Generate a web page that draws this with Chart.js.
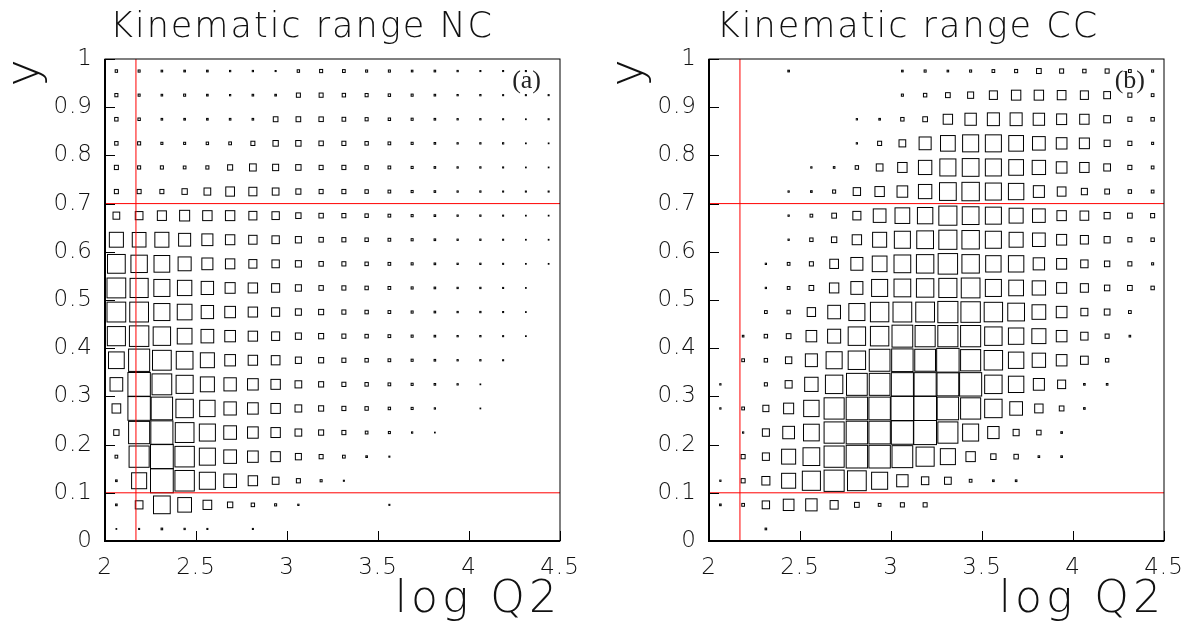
<!DOCTYPE html>
<html>
<head>
<meta charset="utf-8">
<script src="https://cdn.jsdelivr.net/npm/chart.js@4.4.1/dist/chart.umd.min.js"></script>
<style>
  html, body { margin: 0; padding: 0; background: #fff; overflow: hidden; }
  #wrap { position: relative; width: 1199px; height: 628px; }
  canvas { position: absolute; top: 0; }
</style>
</head>
<body>
<div id="wrap">
  <canvas id="chart_nc" width="600" height="628" style="left:0"></canvas>
  <canvas id="chart_cc" width="599" height="628" style="left:600px"></canvas>
</div>
<script>
// bin centres of the 20x20 histograms
const logQ2Bins = [2.0625, 2.1875, 2.3125, 2.4375, 2.5625, 2.6875, 2.8125, 2.9375, 3.0625, 3.1875,
                   3.3125, 3.4375, 3.5625, 3.6875, 3.8125, 3.9375, 4.0625, 4.1875, 4.3125, 4.4375];
// rows listed from the top of the plot (y = 0.975) down to y = 0.025
const yBins = [0.975, 0.925, 0.875, 0.825, 0.775, 0.725, 0.675, 0.625, 0.575, 0.525,
               0.475, 0.425, 0.375, 0.325, 0.275, 0.225, 0.175, 0.125, 0.075, 0.025];

// neutral current, bin contents (arbitrary units)
const ncCounts = [
  [11, 8, 5, 5, 5, 3, 3, 2, 11, 18, 14, 8, 8, 5, 5, 3, 2, 2, 2, 0],
  [18, 8, 5, 8, 5, 3, 5, 5, 31, 31, 22, 18, 11, 8, 5, 3, 3, 2, 2, 2],
  [22, 11, 5, 5, 5, 5, 5, 42, 42, 37, 26, 18, 11, 8, 5, 3, 3, 2, 1, 2],
  [22, 18, 8, 8, 11, 14, 31, 55, 55, 37, 31, 22, 14, 8, 5, 3, 3, 3, 1, 1],
  [31, 18, 18, 14, 18, 49, 87, 70, 55, 31, 31, 22, 14, 8, 5, 3, 3, 2, 1, 1],
  [31, 31, 31, 55, 87, 146, 125, 87, 49, 31, 31, 22, 14, 8, 5, 3, 3, 2, 2, 2],
  [87, 114, 158, 195, 170, 170, 125, 105, 55, 37, 31, 22, 14, 8, 5, 3, 3, 2, 1, 1],
  [381, 364, 381, 280, 236, 170, 135, 105, 70, 37, 31, 22, 14, 8, 5, 3, 3, 2, 1, 1],
  [607, 519, 478, 329, 236, 170, 125, 105, 70, 37, 31, 22, 14, 8, 5, 3, 3, 2, 1, 1],
  [678, 631, 498, 400, 296, 195, 170, 125, 70, 37, 31, 22, 14, 8, 5, 3, 3, 2, 1, 0],
  [678, 678, 498, 419, 296, 221, 170, 125, 70, 49, 31, 22, 14, 8, 5, 3, 3, 2, 1, 0],
  [631, 727, 585, 419, 312, 221, 170, 125, 70, 49, 31, 22, 14, 8, 5, 3, 3, 2, 1, 0],
  [478, 858, 678, 541, 381, 221, 170, 146, 70, 49, 31, 22, 14, 8, 5, 3, 3, 2, 0, 0],
  [312, 971, 753, 563, 381, 296, 221, 170, 87, 49, 31, 22, 14, 8, 5, 3, 1, 0, 0, 0],
  [146, 971, 886, 585, 458, 296, 221, 170, 87, 49, 31, 22, 11, 8, 3, 0, 1, 0, 0, 0],
  [55, 858, 942, 678, 498, 312, 221, 170, 87, 49, 31, 14, 8, 3, 1, 0, 0, 0, 0, 0],
  [14, 779, 1000, 727, 498, 312, 221, 170, 70, 31, 14, 5, 2, 0, 0, 0, 0, 0, 0, 0],
  [5, 438, 1000, 727, 498, 312, 170, 87, 31, 8, 2, 0, 0, 0, 0, 0, 0, 0, 0, 0],
  [5, 114, 541, 364, 146, 55, 22, 8, 3, 0, 0, 0, 2, 0, 0, 0, 0, 0, 0, 0],
  [1, 2, 5, 3, 2, 0, 2, 0, 0, 0, 0, 0, 0, 0, 0, 0, 0, 0, 0, 0]
];

// charged current, bin contents (arbitrary units)
const ccCounts = [
  [0, 0, 0, 5, 0, 0, 0, 0, 5, 8, 5, 8, 14, 18, 42, 31, 22, 31, 14, 8],
  [0, 0, 0, 0, 0, 0, 0, 0, 8, 22, 42, 70, 125, 170, 170, 146, 125, 87, 31, 14],
  [0, 0, 0, 0, 0, 0, 3, 5, 22, 42, 170, 250, 280, 280, 250, 195, 170, 87, 31, 22],
  [0, 0, 0, 0, 0, 0, 3, 31, 87, 280, 419, 498, 498, 419, 312, 221, 195, 70, 31, 8],
  [0, 0, 0, 0, 3, 5, 22, 87, 170, 346, 498, 541, 498, 419, 346, 221, 170, 87, 31, 14],
  [0, 0, 0, 3, 5, 18, 105, 170, 221, 346, 541, 585, 498, 458, 236, 146, 70, 42, 22, 14],
  [0, 0, 0, 3, 14, 42, 125, 312, 419, 458, 631, 541, 498, 381, 312, 170, 146, 70, 42, 31],
  [0, 0, 0, 3, 22, 55, 170, 381, 498, 541, 631, 585, 498, 381, 312, 195, 125, 70, 31, 22],
  [0, 0, 3, 14, 31, 146, 280, 419, 541, 585, 727, 585, 458, 458, 250, 195, 105, 55, 31, 8],
  [0, 0, 3, 14, 42, 170, 280, 498, 541, 585, 631, 678, 498, 419, 346, 195, 125, 55, 42, 22],
  [0, 0, 14, 22, 135, 312, 498, 654, 678, 678, 779, 727, 654, 541, 364, 221, 95, 62, 14, 0],
  [0, 5, 22, 42, 221, 329, 585, 654, 831, 779, 779, 779, 585, 458, 381, 221, 105, 31, 5, 0],
  [0, 14, 22, 78, 280, 498, 585, 831, 886, 831, 971, 779, 654, 458, 346, 221, 114, 22, 0, 0],
  [3, 0, 18, 95, 346, 585, 831, 831, 942, 942, 914, 942, 585, 458, 236, 125, 5, 5, 0, 0],
  [3, 14, 70, 195, 458, 779, 886, 886, 1000, 1000, 886, 779, 585, 312, 135, 42, 5, 0, 0, 0],
  [0, 3, 95, 265, 478, 779, 886, 886, 942, 1000, 779, 498, 250, 70, 37, 5, 0, 0, 0, 0],
  [0, 31, 95, 381, 541, 779, 886, 886, 831, 631, 438, 170, 55, 37, 5, 5, 0, 0, 0, 0],
  [3, 31, 125, 381, 631, 779, 678, 498, 250, 105, 87, 14, 5, 5, 0, 0, 0, 0, 0, 0],
  [5, 14, 105, 221, 250, 125, 42, 14, 31, 31, 0, 0, 0, 0, 0, 0, 0, 0, 0, 0],
  [0, 0, 5, 0, 0, 0, 0, 0, 0, 0, 0, 0, 0, 0, 0, 0, 0, 0, 0, 0]
];

// cut lines (red)
const logQ2Cut = 2.17;
const yCuts = [0.1, 0.7];

const binW = logQ2Bins[1] - logQ2Bins[0];
const binH = yBins[0] - yBins[1];
const FONT = "'DejaVu Sans', sans-serif";

function toCells(counts) {
    const pts = [];
    counts.forEach((row, r) => row.forEach((v, c) => {
        if (v > 0) pts.push({ x: logQ2Bins[c], y: yBins[r], v: v });
    }));
    return pts;
}

// ROOT-like "box" drawing: box side ~ sqrt(content / max)
const boxPlugin = {
    id: 'boxes',
    beforeDraw(chart) {
        chart.ctx.letterSpacing = '1px';
    },
    afterDatasetsDraw(chart) {
        const { ctx, scales: { x, y } } = chart;
        const pts = chart.data.datasets[0].data;
        const vmax = Math.max(...pts.map(p => p.v));
        ctx.save();
        ctx.strokeStyle = '#000';
        ctx.lineWidth = 1;
        pts.forEach(p => {
            const f = Math.sqrt(p.v / vmax);
            const x0 = x.getPixelForValue(p.x - f * binW / 2);
            const x1 = x.getPixelForValue(p.x + f * binW / 2);
            const y0 = y.getPixelForValue(p.y + f * binH / 2);
            const y1 = y.getPixelForValue(p.y - f * binH / 2);
            ctx.strokeRect(x0, y0, x1 - x0, y1 - y0);
        });
        ctx.restore();
    },
    afterDraw(chart, args, opts) {
        const { ctx, chartArea: ca, scales: { x, y } } = chart;
        ctx.save();
        // cut lines
        ctx.strokeStyle = 'rgb(255,0,0)';
        ctx.lineWidth = 1;
        ctx.beginPath();
        const cx = x.getPixelForValue(logQ2Cut);
        ctx.moveTo(cx, ca.top); ctx.lineTo(cx, ca.bottom);
        yCuts.forEach(v => {
            const cy = y.getPixelForValue(v);
            ctx.moveTo(ca.left, cy); ctx.lineTo(ca.right, cy);
        });
        ctx.stroke();

        // frame
        ctx.strokeStyle = '#000';
        ctx.lineWidth = 1;
        ctx.strokeRect(ca.left, ca.top, ca.right - ca.left, ca.bottom - ca.top);
        ctx.lineWidth = 2;
        ctx.beginPath();
        ctx.moveTo(ca.left, ca.top); ctx.lineTo(ca.left, ca.bottom); ctx.lineTo(ca.right, ca.bottom);
        ctx.stroke();

        // inward ticks
        ctx.lineWidth = 1;
        ctx.beginPath();
        y.ticks.forEach(t => {
            const py = Math.round(y.getPixelForValue(t.value)) + 0.5;
            ctx.moveTo(ca.left, py); ctx.lineTo(ca.left + 10, py);
        });
        x.ticks.forEach(t => {
            const px = Math.round(x.getPixelForValue(t.value)) + 0.5;
            ctx.moveTo(px, ca.bottom); ctx.lineTo(px, ca.bottom - 10);
        });
        ctx.stroke();

        // texts
        ctx.fillStyle = '#111';
        ctx.letterSpacing = '2px';
        ctx.font = '200 35px ' + FONT;
        ctx.textAlign = 'center';
        ctx.textBaseline = 'alphabetic';
        ctx.fillText(opts.title, opts.titleX, 37);

        ctx.font = '200 44px ' + FONT;
        ctx.letterSpacing = '4px';
        ctx.textAlign = 'right';
        ctx.fillText('log Q2', ca.right + 1, 612);

        ctx.letterSpacing = '0px';
        ctx.save();
        ctx.translate(ca.left - 67, 73);
        ctx.rotate(-Math.PI / 2);
        ctx.textAlign = 'center';
        ctx.font = '200 46px ' + FONT;
        ctx.fillText('y', 0, 0);
        ctx.restore();

        ctx.font = "26px 'Liberation Serif', serif";
        ctx.textAlign = 'right';
        ctx.textBaseline = 'middle';
        ctx.fillStyle = '#222';
        ctx.fillText(opts.tag, ca.right - 19, 81);
        ctx.restore();
    }
};

function makeChart(id, counts, pad, title, titleX, tag) {
    return new Chart(document.getElementById(id), {
        type: 'scatter',
        data: {
            datasets: [{ data: toCells(counts), pointRadius: 0, pointHoverRadius: 0 }]
        },
        options: {
            responsive: false,
            animation: false,
            events: [],
            layout: { padding: pad },
            plugins: {
                legend: { display: false },
                tooltip: { enabled: false },
                boxes: { title: title, titleX: titleX, tag: tag }
            },
            scales: {
                x: {
                    type: 'linear', min: 2, max: 4.5,
                    grid: { display: false },
                    border: { display: false },
                    ticks: {
                        stepSize: 0.5, autoSkip: false, maxRotation: 0, padding: 5,
                        color: '#111', font: { family: FONT, size: 23, weight: '200' },
                        callback: v => String(v)
                    },
                    afterFit: s => { s.height = 87; }
                },
                y: {
                    type: 'linear', min: 0, max: 1,
                    grid: { display: false },
                    border: { display: false },
                    ticks: {
                        stepSize: 0.1, autoSkip: false, padding: 4,
                        color: '#111', font: { family: FONT, size: 23, weight: '200' },
                        callback: v => String(+v.toFixed(1))
                    },
                    afterFit: s => { s.width = 60; }
                }
            }
        },
        plugins: [boxPlugin]
    });
}

makeChart('chart_nc', ncCounts, { left: 45, right: 40, top: 59, bottom: 0 }, 'Kinematic range NC', 302, '(a)');
makeChart('chart_cc', ccCounts, { left: 49, right: 35, top: 59, bottom: 0 }, 'Kinematic range CC', 308, '(b)');
</script>
</body>
</html>
